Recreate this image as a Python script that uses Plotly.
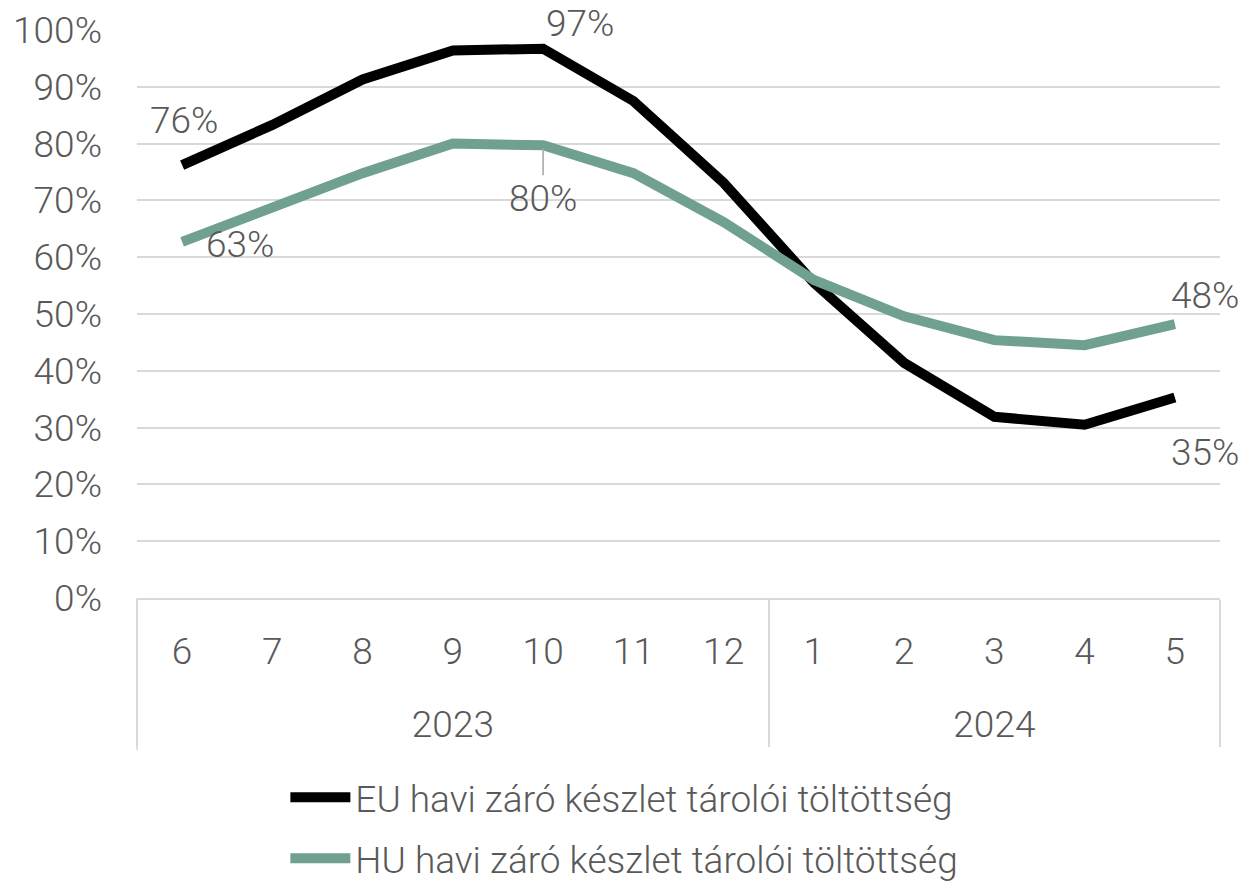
import plotly.graph_objects as go

years = ["2023"] * 7 + ["2024"] * 5
months = ["6", "7", "8", "9", "10", "11", "12", "1", "2", "3", "4", "5"]

eu_fill = [76.2, 83.3, 91.3, 96.4, 96.7, 87.5, 73.1, 55.5, 41.4, 31.9, 30.5, 35.3]
hu_fill = [62.7, 68.7, 74.8, 80.0, 79.7, 74.8, 66.2, 56.0, 49.6, 45.4, 44.5, 48.2]

eu_name = "EU havi záró készlet tárolói töltöttség"
hu_name = "HU havi záró készlet tárolói töltöttség"

grey = "#595959"
grid = "#d9d9d9"
green = "#70a08f"
fsize = 37

# year level gets an empty first line so it sits lower, like the original
year_level = ["<br>" + y for y in years]

fig = go.Figure()
fig.add_trace(go.Scatter(x=[year_level, months], y=eu_fill, mode="lines", name=eu_name,
                         line=dict(color="black", width=10), legendgroup="eu"))
fig.add_trace(go.Scatter(x=[year_level, months], y=hu_fill, mode="lines", name=hu_name,
                         line=dict(color=green, width=10), legendgroup="hu"))

# data labels (index, value, x shift, y shift)
labels = [
    (0, eu_fill[0], 2, 45),
    (4, eu_fill[4], 37, 25),
    (11, eu_fill[11], 30, -55),
    (0, hu_fill[0], 58, -3),
    (11, hu_fill[11], 30, 29),
]
for i, v, dx, dy in labels:
    fig.add_annotation(x=i, y=v, text=f"{round(v)}%", showarrow=False,
                       xshift=dx, yshift=dy, font=dict(size=fsize, color=grey))

# 80% label with leader line
fig.add_annotation(x=4, y=hu_fill[4], text=f"{round(hu_fill[4])}%", showarrow=True,
                   ax=0, ay=53, arrowhead=0, arrowwidth=1.5, arrowcolor="#a6a6a6",
                   standoff=3, font=dict(size=fsize, color=grey))

# left edge divider of the category axis
fig.add_shape(type="line", xref="paper", yref="paper", x0=0, x1=0, y0=0, y1=-0.268,
              line=dict(color=grid, width=1.5))

# page body has an 8px margin, so the figure is sized to end at the window edge
fig.update_layout(
    width=1238, height=873,
    margin=dict(l=129, r=26, t=22, b=283, autoexpand=False),
    paper_bgcolor="white", plot_bgcolor="white",
    font=dict(family="Roboto Light, Roboto", size=fsize, color=grey, weight=300),
    showlegend=True,
    legend=dict(orientation="v", x=0.137, xanchor="left", y=-0.297, yanchor="top",
                font=dict(size=fsize, color=grey), tracegroupgap=10, itemwidth=60,
                traceorder="grouped", bgcolor="rgba(0,0,0,0)"),
)
fig.update_yaxes(range=[0, 100], dtick=10, ticksuffix="%", showgrid=True,
                 gridcolor=grid, gridwidth=1.5, zeroline=False, automargin=False,
                 ticklabelstandoff=34, tickfont=dict(size=fsize, color=grey))
fig.update_xaxes(type="multicategory", range=[-0.5, 11.5], automargin=False,
                 showline=True, linecolor=grid, linewidth=1.5,
                 ticklabelstandoff=20,
                 showdividers=True, dividercolor=grid, dividerwidth=1.5,
                 showgrid=False, tickfont=dict(size=fsize, color=grey))

fig.write_html("out.html")
